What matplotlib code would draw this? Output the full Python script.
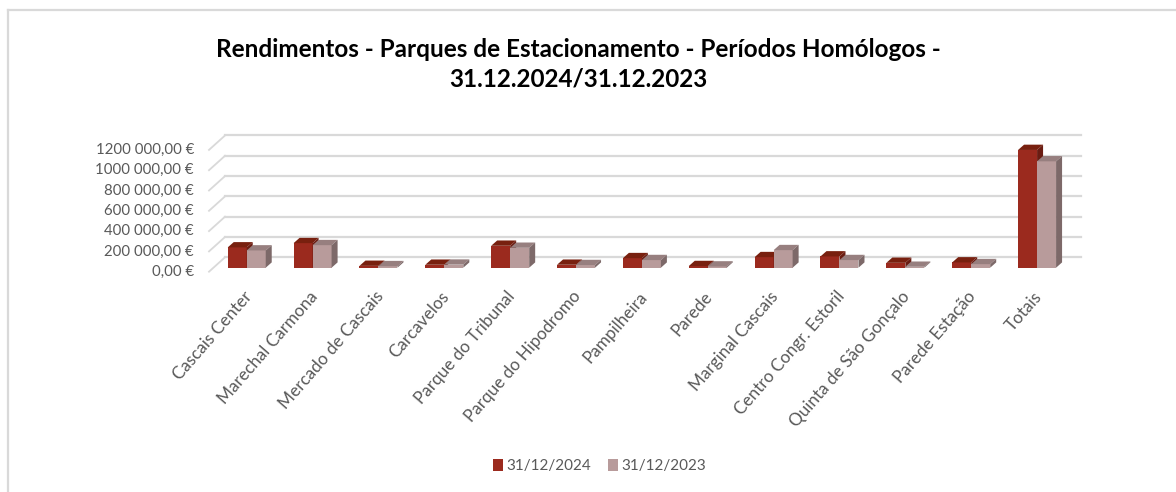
import matplotlib
matplotlib.use("Agg")
import matplotlib.pyplot as plt
from matplotlib.patches import Polygon, Patch
from matplotlib.lines import Line2D

categories = ["Cascais Center", "Marechal Carmona", "Mercado de Cascais", "Carcavelos",
              "Parque do Tribunal", "Parque do Hipodromo", "Pampilheira", "Parede",
              "Marginal Cascais", "Centro Congr. Estoril", "Quinta de São Gonçalo",
              "Parede Estação", "Totais"]
series_labels = ["31/12/2024", "31/12/2023"]
values_2024 = [200000, 242000, 18000, 29000, 216000, 29000, 94000, 16000,
               104000, 111000, 48000, 52000, 1160000]
values_2023 = [170000, 222000, 15000, 30000, 196000, 26000, 75000, 12000,
               173000, 75000, 9000, 35000, 1048000]
y_ticks = [0, 200000, 400000, 600000, 800000, 1000000, 1200000]
y_tick_labels = ["0,00 €", "200 000,00 €", "400 000,00 €", "600 000,00 €",
                 "800 000,00 €", "1000 000,00 €", "1200 000,00 €"]
title_lines = ["Rendimentos - Parques de Estacionamento - Períodos Homólogos -",
               "31.12.2024/31.12.2023"]

FONT = "Lato"
RED_FRONT, RED_TOP, RED_SIDE = "#9B2A1E", "#78200F", "#6A1C12"
PINK_FRONT, PINK_TOP, PINK_SIDE = "#B89B9B", "#977F7F", "#7D6969"
GRID = "#D9D9D9"
TXT = "#595959"

W, H = 1176, 492
fig = plt.figure(figsize=(W / 100, H / 100), dpi=100)
fig.patch.set_facecolor("white")

ax_l, ax_r, ax_t, ax_b = 213.8, 1070.0, 145.9, 267.7
ax = fig.add_axes([ax_l / W, (H - ax_b) / H, (ax_r - ax_l) / W, (ax_b - ax_t) / H])
n = len(categories)
ax.set_xlim(-0.5, n - 0.5)
ax.set_ylim(0, y_ticks[-1])
ax.axis("off")

ux = n / (ax_r - ax_l)            # data units per pixel (x)
uy = y_ticks[-1] / (ax_b - ax_t)  # data units per pixel (y)

# back wall gridlines and left diagonals
gx, gy = 11.2 * ux, 10.4 * uy
fx, fy = -4.8 * ux, -4.0 * uy
for v, lab in zip(y_ticks, y_tick_labels):
    ax.add_line(Line2D([-0.5 + gx, n - 0.5 + gx], [v + gy, v + gy], color=GRID,
                       lw=1.6, clip_on=False, zorder=0))
    ax.add_line(Line2D([-0.5 + fx, -0.5 + gx], [v + fy, v + gy], color=GRID,
                       lw=1.3, clip_on=False, zorder=0))
    ax.text(-0.5 - (ax_l - 194) * ux, v + fy, lab, ha="right", va="center",
            fontsize=10.8, color=TXT, family=FONT, clip_on=False)

# 3D bars
bw = 19.0 * ux
dx, dy = 6.0 * ux, 5.3 * uy


def bar3d(x0, v, front, top, side, z):
    x1 = x0 + bw
    ax.bar(x0, v, width=bw, align="edge", color=front, zorder=z, clip_on=False,
           linewidth=0)
    ax.add_patch(Polygon([(x0, v), (x1, v), (x1 + dx, v + dy), (x0 + dx, v + dy)],
                         closed=True, fc=top, ec="none", zorder=z, clip_on=False))
    ax.add_patch(Polygon([(x1, 0), (x1 + dx, dy), (x1 + dx, v + dy), (x1, v)],
                         closed=True, fc=side, ec="none", zorder=z, clip_on=False))


for i, (a, b) in enumerate(zip(values_2024, values_2023)):
    bar3d(i - bw, a, RED_FRONT, RED_TOP, RED_SIDE, 2)
    bar3d(i, b, PINK_FRONT, PINK_TOP, PINK_SIDE, 3)

# category labels
for i, c in enumerate(categories):
    ax.text(i + 2.0 * ux, -26.0 * uy, c, rotation=49, rotation_mode="anchor",
            ha="right", va="center", fontsize=12.3, color=TXT, family=FONT,
            clip_on=False)

# title
renderer = fig.canvas.get_renderer()
t1 = fig.text(578.5 / W, (H - 57.3) / H, title_lines[0], ha="center", va="baseline",
              fontsize=17, fontweight="bold", color="black", family=FONT)
w = t1.get_window_extent(renderer).width
size = 17 * 723.0 / w
t1.set_fontsize(size)
fig.text(578.5 / W, (H - 86.7) / H, title_lines[1], ha="center", va="baseline",
         fontsize=size, fontweight="bold", color="black", family=FONT)

# legend
handles = [Patch(facecolor=RED_FRONT, edgecolor="none"),
           Patch(facecolor=PINK_FRONT, edgecolor="none")]
fig.legend(handles, series_labels, loc="center", bbox_to_anchor=(599.5 / W, (H - 466) / H),
           ncol=2, frameon=False, handlelength=0.65, handleheight=0.85,
           handletextpad=0.25, columnspacing=1.1, labelcolor=TXT,
           prop={"family": FONT, "size": 11})

# chart frame (top and left edges visible)
fig.add_artist(Line2D([7.7 / W, 1.0], [1 - 10 / H, 1 - 10 / H], color=GRID, lw=1.6,
                      transform=fig.transFigure))
fig.add_artist(Line2D([7.7 / W, 7.7 / W], [0, 1 - 10 / H], color=GRID, lw=1.6,
                      transform=fig.transFigure))

fig.savefig("out.png", dpi=100, facecolor="white")
